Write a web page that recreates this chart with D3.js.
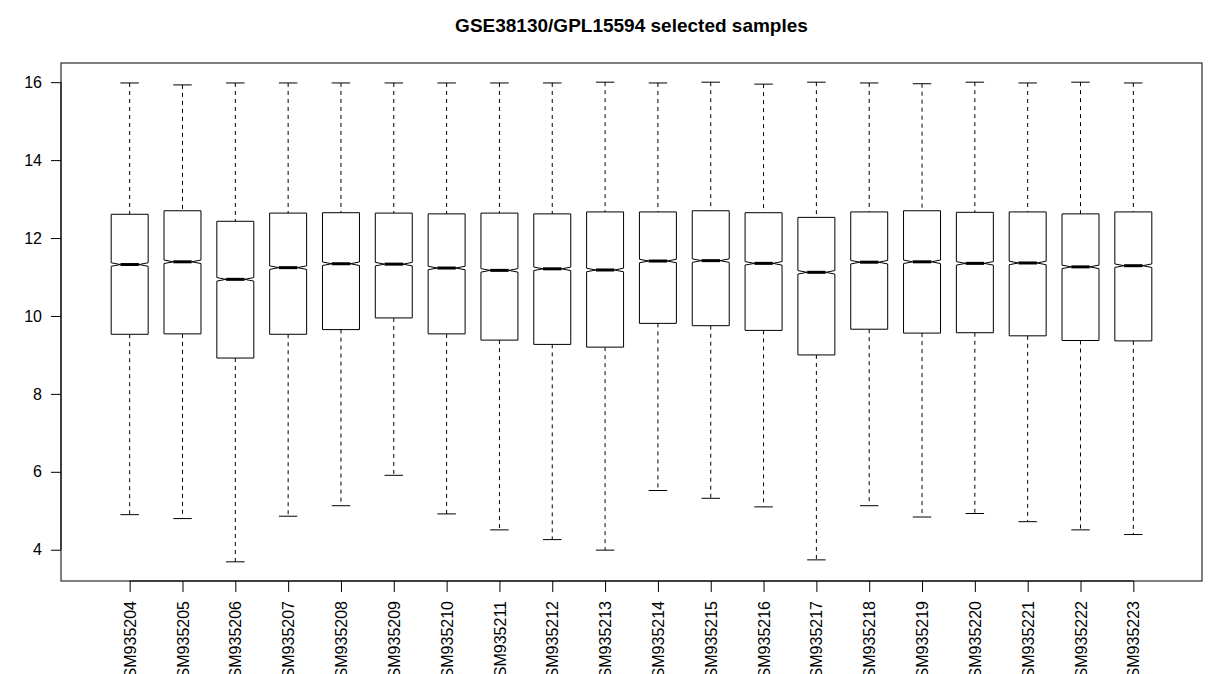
<!DOCTYPE html>
<html>
<head>
<meta charset="utf-8">
<script src="https://cdn.jsdelivr.net/npm/d3@7"></script>
<style>
  html, body { margin: 0; padding: 0; background: #fff; }
  svg { display: block; font-family: "Liberation Sans", Arial, Helvetica, sans-serif; }
</style>
</head>
<body>
<svg id="chart" width="1220" height="674"></svg>
<script>
// ---- data ----
const samples = ["GSM935204","GSM935205","GSM935206","GSM935207","GSM935208","GSM935209","GSM935210","GSM935211","GSM935212","GSM935213",
                 "GSM935214","GSM935215","GSM935216","GSM935217","GSM935218","GSM935219","GSM935220","GSM935221","GSM935222","GSM935223"];
const whiskerHigh = [15.98,15.93,15.98,15.98,15.98,15.98,15.98,15.98,15.98,16.00,15.98,16.00,15.95,16.00,15.98,15.96,16.00,15.98,16.00,15.98];
const upperQuartile = [12.61,12.70,12.43,12.64,12.65,12.64,12.62,12.64,12.62,12.67,12.67,12.70,12.65,12.53,12.67,12.70,12.66,12.67,12.62,12.67];
const medians = [11.32,11.39,10.94,11.24,11.34,11.33,11.23,11.17,11.21,11.18,11.41,11.42,11.35,11.12,11.38,11.39,11.35,11.36,11.26,11.29];
const lowerQuartile = [9.53,9.54,8.92,9.53,9.65,9.95,9.54,9.38,9.27,9.20,9.81,9.75,9.63,9.00,9.66,9.56,9.57,9.49,9.37,9.36];
const whiskerLow = [4.90,4.80,3.69,4.86,5.13,5.91,4.92,4.51,4.26,3.99,5.52,5.32,5.10,3.74,5.13,4.84,4.93,4.72,4.51,4.39];
const notchHalf = [0.045,0.045,0.045,0.045,0.045,0.045,0.045,0.045,0.045,0.045,0.045,0.045,0.045,0.045,0.045,0.045,0.045,0.045,0.045,0.045];
const yTicks = [4,6,8,10,12,14,16];
const title = "GSE38130/GPL15594 selected samples";

// ---- layout ----
const svg = d3.select("#chart");
const plot = {left: 61, right: 1202, top: 63, bottom: 581};
const n = samples.length;
const boxHalf = 0.35, stapleHalf = 0.175;

const xLo = 0.5, xHi = n + 0.5, xPad = (xHi - xLo) * 0.04;
const x = d3.scaleLinear().domain([xLo - xPad, xHi + xPad]).range([plot.left, plot.right]);
const yMin = d3.min(whiskerLow), yMax = d3.max(whiskerHigh), yPad = (yMax - yMin) * 0.04;
const y = d3.scaleLinear().domain([yMin - yPad, yMax + yPad]).range([plot.bottom, plot.top]);

const data = samples.map((s, i) => ({
  name: s, pos: i + 1,
  hi: whiskerHigh[i], q3: upperQuartile[i], med: medians[i], q1: lowerQuartile[i], lo: whiskerLow[i], nh: notchHalf[i]
}));

// title
svg.append("text")
  .attr("x", (plot.left + plot.right) / 2).attr("y", 31.5)
  .attr("text-anchor", "middle")
  .attr("font-size", 19).attr("font-weight", "bold")
  .text(title);

const g = svg.append("g");
const boxes = g.selectAll("g.box").data(data).join("g").attr("class", "box");

// whiskers (dashed)
boxes.append("line")
  .attr("x1", d => x(d.pos)).attr("x2", d => x(d.pos))
  .attr("y1", d => y(d.hi)).attr("y2", d => y(d.q3))
  .attr("stroke", "#000").attr("stroke-dasharray", "4,4");
boxes.append("line")
  .attr("x1", d => x(d.pos)).attr("x2", d => x(d.pos))
  .attr("y1", d => y(d.q1)).attr("y2", d => y(d.lo))
  .attr("stroke", "#000").attr("stroke-dasharray", "4,4");
// staples
boxes.append("line")
  .attr("x1", d => x(d.pos - stapleHalf)).attr("x2", d => x(d.pos + stapleHalf))
  .attr("y1", d => y(d.hi)).attr("y2", d => y(d.hi))
  .attr("stroke", "#000");
boxes.append("line")
  .attr("x1", d => x(d.pos - stapleHalf)).attr("x2", d => x(d.pos + stapleHalf))
  .attr("y1", d => y(d.lo)).attr("y2", d => y(d.lo))
  .attr("stroke", "#000");

// notched box
boxes.append("path")
  .attr("d", d => {
    const L = d.pos - boxHalf, R = d.pos + boxHalf, NL = d.pos - boxHalf / 2, NR = d.pos + boxHalf / 2;
    const pts = [[L, d.q3], [L, d.med + d.nh], [NL, d.med], [L, d.med - d.nh], [L, d.q1],
                 [R, d.q1], [R, d.med - d.nh], [NR, d.med], [R, d.med + d.nh], [R, d.q3]];
    return d3.line().x(p => x(p[0])).y(p => y(p[1]))(pts) + "Z";
  })
  .attr("fill", "#fff").attr("stroke", "#000").attr("stroke-width", 1);

// median
boxes.append("line")
  .attr("x1", d => x(d.pos - boxHalf / 2)).attr("x2", d => x(d.pos + boxHalf / 2))
  .attr("y1", d => y(d.med)).attr("y2", d => y(d.med))
  .attr("stroke", "#000").attr("stroke-width", 3);

// frame
svg.append("rect")
  .attr("x", plot.left).attr("y", plot.top)
  .attr("width", plot.right - plot.left).attr("height", plot.bottom - plot.top)
  .attr("fill", "none").attr("stroke", "#000");

// y axis
const yAxis = d3.axisLeft(y).tickValues(yTicks).tickSize(10).tickPadding(9).tickFormat(d3.format("d"));
const ya = svg.append("g").attr("transform", `translate(${plot.left},0)`).call(yAxis);
ya.select(".domain").remove();
ya.append("line").attr("x1", 0).attr("x2", 0).attr("y1", y(yTicks[0])).attr("y2", y(yTicks[yTicks.length - 1])).attr("stroke", "#000");
ya.selectAll("text").attr("font-size", 16).attr("font-family", "Liberation Sans, Arial, sans-serif").attr("fill", "#000");

// x axis
const xAxis = d3.axisBottom(x).tickValues(d3.range(1, n + 1)).tickSize(11).tickFormat(d => samples[d - 1]);
const xa = svg.append("g").attr("transform", `translate(0,${plot.bottom})`).call(xAxis);
xa.select(".domain").remove();
xa.append("line").attr("x1", x(1)).attr("x2", x(n)).attr("y1", 0).attr("y2", 0).attr("stroke", "#000");
xa.selectAll(".tick text")
  .attr("font-size", 16).attr("font-family", "Liberation Sans, Arial, sans-serif").attr("fill", "#000")
  .attr("transform", "rotate(-90)")
  .attr("text-anchor", "end")
  .attr("x", -20).attr("y", 0).attr("dy", "0.35em");
</script>
</body>
</html>
